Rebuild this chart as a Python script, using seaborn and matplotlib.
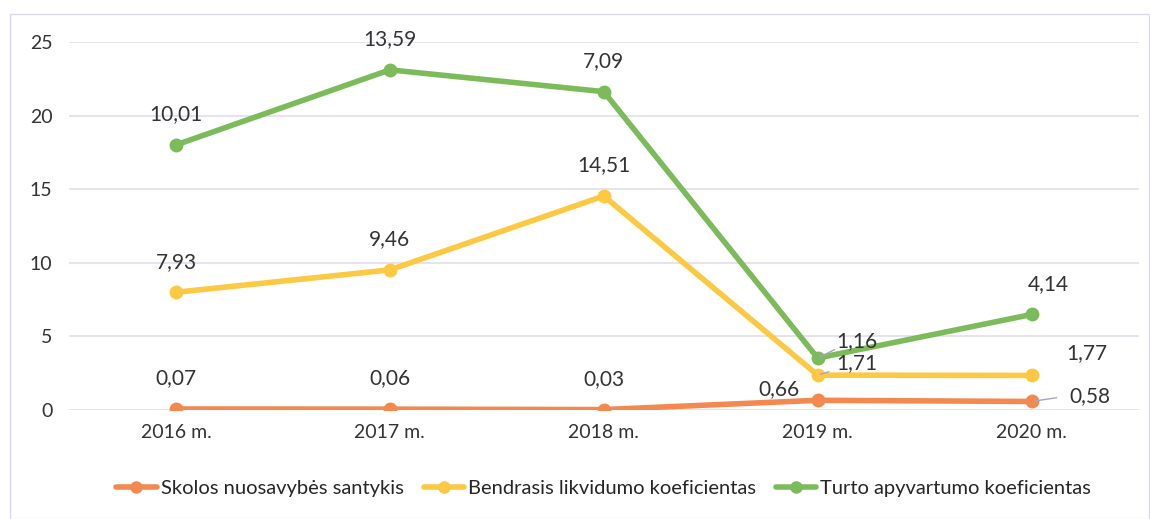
import numpy as np
import pandas as pd
import seaborn as sns
import matplotlib.pyplot as plt

years = ['2016 m.', '2017 m.', '2018 m.', '2019 m.', '2020 m.']
skolos = [0.07, 0.06, 0.03, 0.66, 0.58]
bendrasis = [7.93, 9.46, 14.51, 1.71, 1.77]
turto = [10.01, 13.59, 7.09, 1.16, 4.14]
series_names = ['Skolos nuosavybės santykis', 'Bendrasis likvidumo koeficientas',
                'Turto apyvartumo koeficientas']
colors = ['#F4894F', '#FDC943', '#7CBB5A']

# stacked line chart (Excel style): positions are cumulative, labels show own values
vals = np.array([skolos, bendrasis, turto])
stacked = np.cumsum(vals, axis=0)

rows = []
for i, name in enumerate(series_names):
    for j, yr in enumerate(years):
        rows.append({'pos': j, 'year': yr, 'series': name,
                     'value': vals[i, j], 'stacked': stacked[i, j]})
df = pd.DataFrame(rows)

sns.set_style('white')
plt.rcParams['font.family'] = ['Lato', 'DejaVu Sans']

fig = plt.figure(figsize=(11.5, 5.19), dpi=100)
ax = fig.add_axes([0.06, 0.21, 0.93, 0.709])

sns.lineplot(data=df, x='pos', y='stacked', hue='series', palette=colors,
             marker='o', markersize=10, markeredgewidth=0, linewidth=4,
             ax=ax, legend=True)

ax.set_xlim(-0.5, 4.5)
ax.set_ylim(0, 25)
ax.set_yticks([0, 5, 10, 15, 20, 25])
ax.set_xticks(range(len(years)))
ax.set_xticklabels(years)
ax.set_xlabel('')
ax.set_ylabel('')
ax.tick_params(axis='both', length=0, labelsize=14, colors='#333333')
ax.tick_params(axis='y', pad=12)
ax.tick_params(axis='x', pad=10)
ax.grid(axis='y', color='#E2DDEE', linewidth=1.2)
sns.despine(ax=ax, left=True, bottom=True, top=True, right=True)

# data labels (offsets in points)
offsets = {
    (0, 0): (0, 22), (0, 1): (0, 22), (0, 2): (0, 22), (0, 3): (-28, 8), (0, 4): (42, 4),
    (1, 0): (0, 22), (1, 1): (0, 22), (1, 2): (0, 22), (1, 3): (28, 9), (1, 4): (40, 16),
    (2, 0): (0, 22), (2, 1): (0, 22), (2, 2): (0, 22), (2, 3): (28, 12), (2, 4): (12, 22),
}
for i in range(len(series_names)):
    for j in range(len(years)):
        dx, dy = offsets[(i, j)]
        lbl = f'{vals[i, j]:.2f}'.replace('.', ',')
        ax.annotate(lbl, (j, stacked[i, j]), xytext=(dx, dy), textcoords='offset points',
                    ha='center', va='center', fontsize=15, color='#333333')

# small leader lines
for i, j, (x1, y1) in [(2, 3, (14, 7)), (1, 3, (10, 3)), (0, 4, (20, 3))]:
    ax.annotate('', (j, stacked[i, j]), xytext=(x1, y1), textcoords='offset points',
                arrowprops=dict(arrowstyle='-', color='#A9A3C4', lw=1))

handles, labels = ax.get_legend_handles_labels()
ax.legend(handles, labels, loc='upper center', bbox_to_anchor=(0.5, -0.14), ncol=3,
          frameon=False, fontsize=14.5, handlelength=2.0, handletextpad=0.2,
          columnspacing=1.0, markerscale=0.9)

# outer chart border
fig.patches.append(plt.Rectangle((0.009, 0.0), 0.99, 0.973, transform=fig.transFigure,
                                 fill=False, edgecolor='#DCD8E8', linewidth=1))

fig.savefig('out.png', dpi=100)
